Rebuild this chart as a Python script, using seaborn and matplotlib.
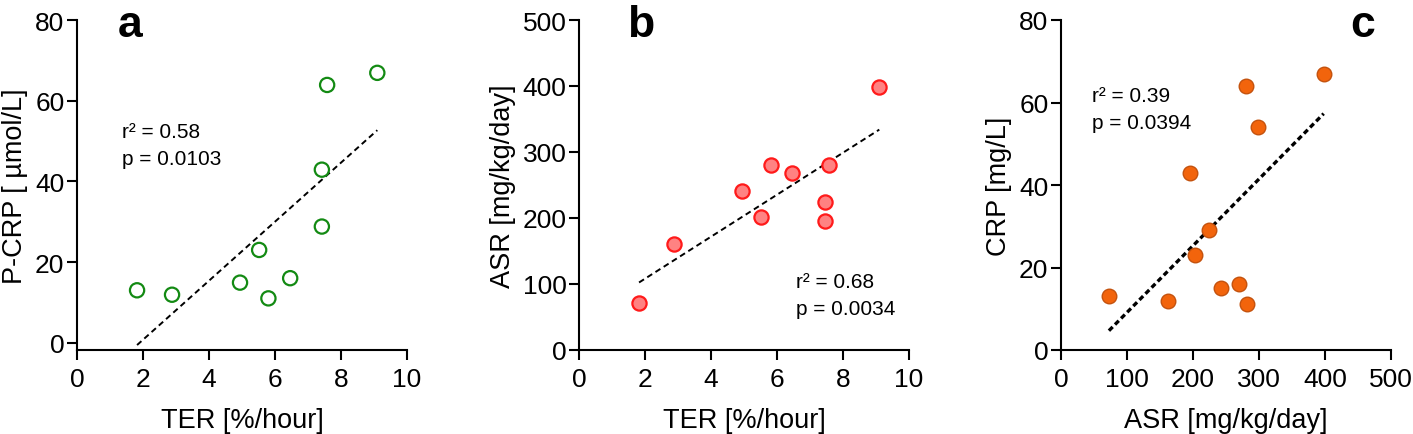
import matplotlib
matplotlib.use("Agg")
import matplotlib.pyplot as plt
import seaborn as sns

sns.set_style("ticks")
plt.rcParams['font.family'] = ['Liberation Sans', 'DejaVu Sans']
plt.rcParams['text.color'] = 'black'
plt.rcParams['axes.labelcolor'] = 'black'

# data
ter_a = [1.82, 2.88, 4.94, 5.52, 5.80, 6.46, 7.42, 7.42, 7.58, 9.10]
pcrp_a = [13.0, 11.9, 14.9, 23.0, 11.0, 16.0, 28.8, 42.9, 63.9, 66.9]

ter_b = [1.82, 2.88, 4.95, 5.53, 5.81, 6.45, 7.46, 7.46, 7.57, 9.10]
asr_b = [71, 161, 241, 202, 281, 268, 224, 195, 281, 398]

asr_c = [72.6, 162, 196, 203, 224, 242, 269, 281, 282, 299, 398]
crp_c = [13.1, 12.0, 43.0, 23.0, 29.1, 15.0, 16.0, 64.1, 11.1, 54.0, 67.0]

stats_a = ["r\u00b2 = 0.58", "p = 0.0103"]
stats_b = ["r\u00b2 = 0.68", "p = 0.0034"]
stats_c = ["r\u00b2 = 0.39", "p = 0.0394"]

fig = plt.figure(figsize=(14.13, 4.35), dpi=100)
W, H = 1413, 435
ax_a = fig.add_axes([77 / W, 84 / H, 330 / W, 330 / H])
ax_b = fig.add_axes([579 / W, 84 / H, 330 / W, 330 / H])
ax_c = fig.add_axes([1061 / W, 84 / H, 330 / W, 330 / H])

# Panel a - open green circles
sns.scatterplot(x=ter_a, y=pcrp_a, ax=ax_a, s=105, facecolor="none",
                edgecolor="#138a13", linewidth=1.6, zorder=3)
sns.regplot(x=ter_a, y=pcrp_a, ax=ax_a, scatter=False, ci=None,
            line_kws=dict(color="black", lw=1.4, ls=(0, (3, 2))))
ax_a.set_xlim(0, 10)
ax_a.set_ylim(-1.8, 80)
ax_a.set_xticks([0, 2, 4, 6, 8, 10])
ax_a.set_yticks([0, 20, 40, 60, 80])
ax_a.set_xlabel("TER [%/hour]")
ax_a.set_ylabel("P-CRP [ \u00b5mol/L]")

# Panel b - filled red circles
sns.scatterplot(x=ter_b, y=asr_b, ax=ax_b, s=105, color="#ff8282",
                edgecolor="#ff1a1a", linewidth=1.6, zorder=3)
sns.regplot(x=ter_b, y=asr_b, ax=ax_b, scatter=False, ci=None,
            line_kws=dict(color="black", lw=1.4, ls=(0, (3, 2))))
ax_b.set_xlim(0, 10)
ax_b.set_ylim(0, 500)
ax_b.set_xticks([0, 2, 4, 6, 8, 10])
ax_b.set_yticks([0, 100, 200, 300, 400, 500])
ax_b.set_xlabel("TER [%/hour]")
ax_b.set_ylabel("ASR [mg/kg/day]")

# Panel c - filled orange circles
sns.scatterplot(x=asr_c, y=crp_c, ax=ax_c, s=110, color="#f2640c",
                edgecolor="#c4520e", linewidth=1.0, zorder=3)
sns.regplot(x=asr_c, y=crp_c, ax=ax_c, scatter=False, ci=None,
            line_kws=dict(color="black", lw=2.4, ls=(0, (1.6, 1.0))))
ax_c.set_xlim(0, 500)
ax_c.set_ylim(0, 80)
ax_c.set_xticks([0, 100, 200, 300, 400, 500])
ax_c.set_yticks([0, 20, 40, 60, 80])
ax_c.set_xlabel("ASR [mg/kg/day]")
ax_c.set_ylabel("CRP [mg/L]")

for ax in (ax_a, ax_b, ax_c):
    sns.despine(ax=ax)
    for side in ("left", "bottom"):
        ax.spines[side].set_linewidth(1.5)
        ax.spines[side].set_color("black")
    ax.tick_params(direction="out", length=7, width=1.5, color="black",
                   labelsize=19, labelcolor="black")
    ax.tick_params(axis="x", pad=5)
    ax.tick_params(axis="y", pad=2)
    ax.xaxis.label.set_size(19.5)
    ax.yaxis.label.set_size(19.5)
    ax.xaxis.labelpad = 12
    ax.yaxis.labelpad = 5
    ax.patch.set_alpha(0)

# stats text
for ax, lines, (x0, y0, y1) in ((ax_a, stats_a, (0.136, 0.645, 0.563)),
                                (ax_b, stats_b, (0.658, 0.19, 0.109)),
                                (ax_c, stats_c, (0.094, 0.755, 0.673))):
    ax.text(x0, y0, lines[0], transform=ax.transAxes, fontsize=15, va="baseline")
    ax.text(x0, y1, lines[1], transform=ax.transAxes, fontsize=15, va="baseline")

# panel letters
for x, letter in ((118, "a"), (627, "b"), (1350, "c")):
    fig.text(x / W, (H - 37) / H, letter, fontsize=32, fontweight="bold",
             va="baseline", ha="left")

fig.savefig("out.png", dpi=100)
